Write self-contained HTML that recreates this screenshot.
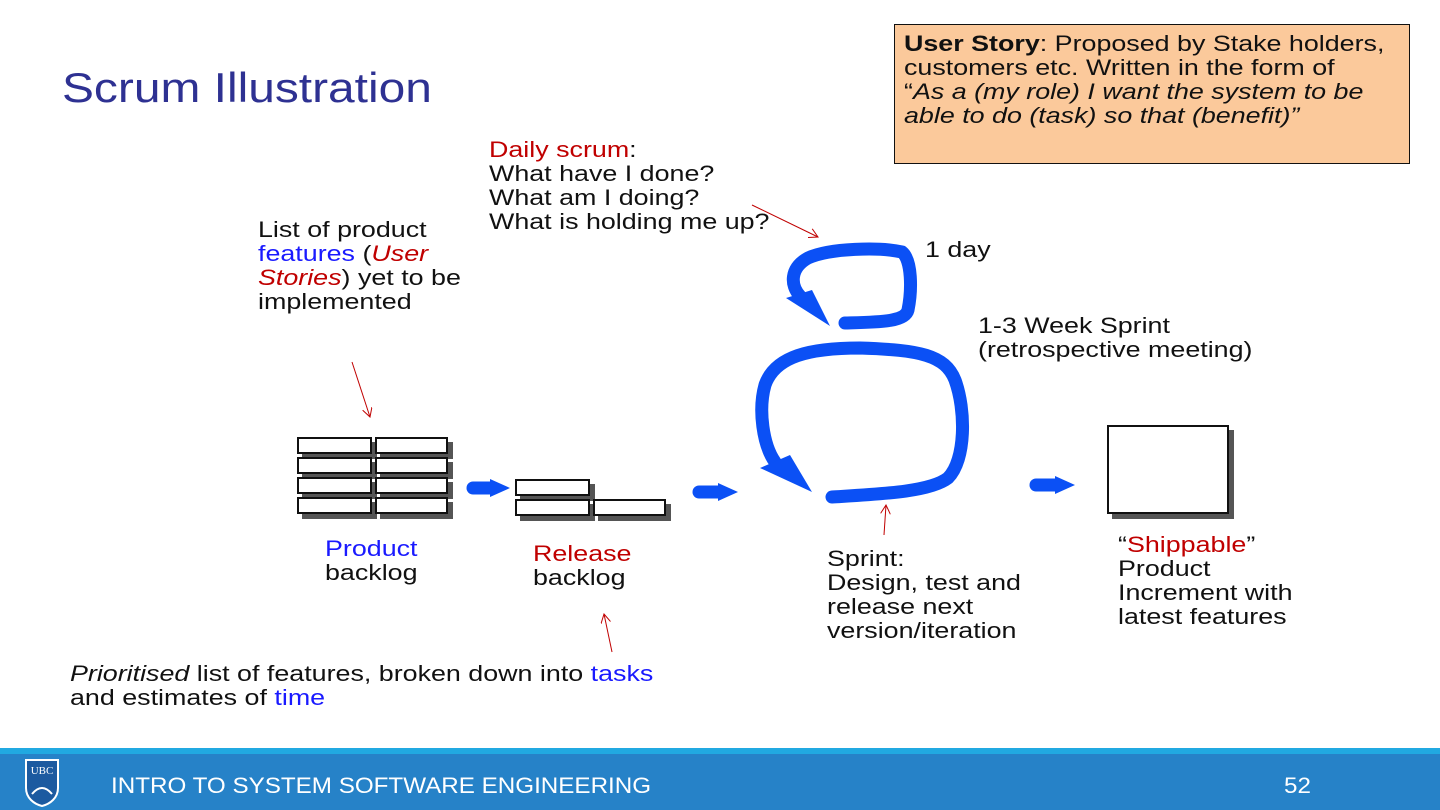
<!DOCTYPE html>
<html><head><meta charset="utf-8"><style>
body{margin:0;width:1440px;height:810px;position:relative;background:#fff;font-family:"Liberation Sans",Arial,sans-serif;overflow:hidden}
.t{position:absolute;font-size:22px;line-height:24px;color:#111;white-space:nowrap;transform:scaleX(1.22);transform-origin:0 0}
.r{color:#c00000}.b{color:#1a1aff}
.bx{position:absolute;background:#fff;border:2px solid #111;box-shadow:5px 5px 0 #555;box-sizing:border-box}
</style></head><body>
<div class="t" style="left:62px;top:64px;font-size:42px;line-height:48px;color:#2e3192;transform:scaleX(1.14)">Scrum Illustration</div>
<div style="position:absolute;left:894px;top:24px;width:516px;height:140px;background:#fbc99b;border:1.5px solid #111;box-sizing:border-box"></div>
<div class="t" style="left:904px;top:32px">
<b>User Story</b>: Proposed by Stake holders,<br>customers etc. Written in the form of<br>“<i>As a (my role) I want the system to be<br>able to do (task) so that (benefit)”</i></div>
<div class="t" style="left:489px;top:138px"><span class="r">Daily scrum</span>:<br>What have I done?<br>What am I doing?<br>What is holding me up?</div>
<div class="t" style="left:258px;top:218px">List of product<br><span class="b">features</span> (<i class="r">User<br>Stories</i>) yet to be<br>implemented</div>
<div class="t" style="left:925px;top:238px">1 day</div>
<div class="t" style="left:978px;top:314px">1-3 Week Sprint<br>(retrospective meeting)</div>
<div class="t" style="left:325px;top:537px"><span class="b">Product</span><br>backlog</div>
<div class="t" style="left:533px;top:542px"><span class="r">Release</span><br>backlog</div>
<div class="t" style="left:827px;top:547px">Sprint:<br>Design, test and<br>release next<br>version/iteration</div>
<div class="t" style="left:1118px;top:533px">“<span class="r">Shippable</span>”<br>Product<br>Increment with<br>latest features</div>
<div class="t" style="left:70px;top:662px"><i>Prioritised</i> list of features, broken down into <span class="b">tasks</span><br>and estimates of <span class="b">time</span></div>

<div class="bx" style="left:297px;top:437px;width:75px;height:17px"></div>
<div class="bx" style="left:375px;top:437px;width:73px;height:17px"></div>
<div class="bx" style="left:297px;top:457px;width:75px;height:17px"></div>
<div class="bx" style="left:375px;top:457px;width:73px;height:17px"></div>
<div class="bx" style="left:297px;top:477px;width:75px;height:17px"></div>
<div class="bx" style="left:375px;top:477px;width:73px;height:17px"></div>
<div class="bx" style="left:297px;top:497px;width:75px;height:17px"></div>
<div class="bx" style="left:375px;top:497px;width:73px;height:17px"></div>
<div class="bx" style="left:515px;top:479px;width:75px;height:17px"></div>
<div class="bx" style="left:515px;top:499px;width:75px;height:17px"></div>
<div class="bx" style="left:593px;top:499px;width:73px;height:17px"></div>
<div class="bx" style="left:1107px;top:425px;width:122px;height:89px"></div>

<svg width="1440" height="810" style="position:absolute;left:0;top:0">
<defs><marker id="ra" markerWidth="10" markerHeight="10" refX="9" refY="5" orient="auto" markerUnits="userSpaceOnUse"><path d="M0,0 L9,5 L0,10" fill="none" stroke="#c00000" stroke-width="1"/></marker></defs>
<g stroke="#c00000" stroke-width="1" marker-end="url(#ra)">
<line x1="752" y1="205" x2="818" y2="237"/>
<line x1="352" y1="362" x2="370" y2="417"/>
<line x1="612" y1="652" x2="604" y2="614"/>
<line x1="884" y1="535" x2="886" y2="505"/>
</g>
<g fill="none" stroke="#0b50f5" stroke-width="13" stroke-linecap="round">
<path d="M845,323 C880,322 905,322 908,310 C912,290 912,260 902,252 C880,247 830,248 808,258 C790,268 790,285 800,296"/>
<path d="M832,497 C880,494 930,492 948,478 C966,460 966,410 955,380 C945,355 920,350 860,348 C810,348 775,356 765,385 C758,410 763,445 775,462"/>
<line x1="473" y1="488" x2="492" y2="488"/>
<line x1="699" y1="492" x2="720" y2="492"/>
<line x1="1036" y1="485" x2="1057" y2="485"/>
</g>
<g fill="#0b50f5">
<path d="M786,298 L812,290 L830,326 Z"/>
<path d="M760,468 L790,455 L812,492 Z"/>
<polygon points="490,479 510,488 490,497"/>
<polygon points="718,483 738,492 718,501"/>
<polygon points="1055,476 1075,485 1055,494"/>
</g>
</svg>

<div style="position:absolute;left:0;top:748px;width:1440px;height:6px;background:#21a9e1"></div>
<div style="position:absolute;left:0;top:754px;width:1440px;height:56px;background:#2682c8"></div>
<svg width="36" height="50" style="position:absolute;left:24px;top:758px"><path d="M2,2 H34 V30 C34,40 26,46 18,48 C10,46 2,40 2,30 Z" fill="#1c5aa0" stroke="#fff" stroke-width="2"/><text x="18" y="16" font-size="11" fill="#fff" text-anchor="middle" font-family="Liberation Serif">UBC</text><path d="M8,36 Q18,24 28,36" stroke="#fff" stroke-width="2" fill="none"/></svg>
<div class="t" style="left:111px;top:772px;color:#fff;font-size:22px;line-height:28px;transform:scaleX(1.1)">INTRO TO SYSTEM SOFTWARE ENGINEERING</div>
<div class="t" style="left:1284px;top:772px;color:#fff;font-size:22px;line-height:28px;transform:scaleX(1.1)">52</div>
</body></html>
